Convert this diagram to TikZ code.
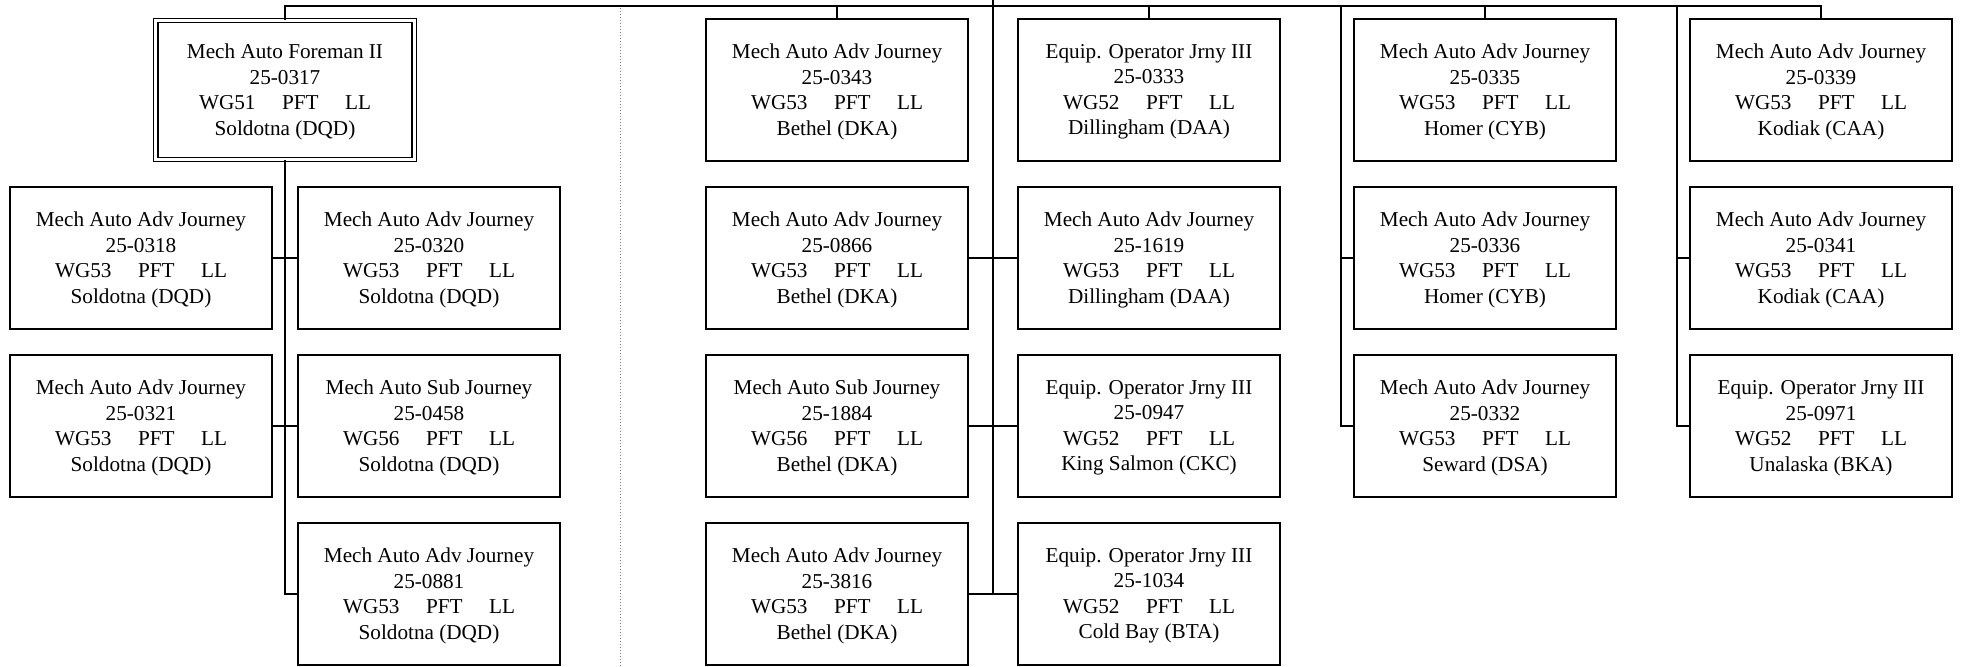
\documentclass[tikz,border=0pt]{standalone}
\usepackage{fontspec}
\setmainfont{Liberation Serif}
\usepackage{tikz}
\usetikzlibrary{calc}
\newcommand{\jobtext}[4]{\raisebox{0pt}[\dimexpr\height+2pt\relax]{#1}\\#2\\#3\hspace{1.25em}PFT\hspace{1.25em}LL\\#4}
\tikzset{job/.style={draw, line width=0.9pt, minimum width=131pt, minimum height=71pt, inner sep=0pt, align=center, font=\fontsize{10.6}{12.75}\selectfont}}
\tikzset{boss/.style={job, line width=0.6pt, double, double distance=1.6pt, minimum width=129.2pt, minimum height=69.5pt}}
\tikzset{wire/.style={line width=0.8pt}}

\begin{document}
\begin{tikzpicture}[x=0.5pt, y=-0.5pt]
  \useasboundingbox (0,0) rectangle (1965,667);
  \node [boss] (fm) at (285, 90) {\jobtext{Mech Auto Foreman II}{25-0317}{WG51}{Soldotna (DQD)}};
  \node [job] (a2) at (141,258) {\jobtext{Mech Auto Adv Journey}{25-0318}{WG53}{Soldotna (DQD)}};
  \node [job] (b2) at (429,258) {\jobtext{Mech Auto Adv Journey}{25-0320}{WG53}{Soldotna (DQD)}};
  \node [job] (a3) at (141,426) {\jobtext{Mech Auto Adv Journey}{25-0321}{WG53}{Soldotna (DQD)}};
  \node [job] (b3) at (429,426) {\jobtext{Mech Auto Sub Journey}{25-0458}{WG56}{Soldotna (DQD)}};
  \node [job] (b4) at (429,594) {\jobtext{Mech Auto Adv Journey}{25-0881}{WG53}{Soldotna (DQD)}};

  \node [job] (c1) at (837, 90) {\jobtext{Mech Auto Adv Journey}{25-0343}{WG53}{Bethel (DKA)}};
  \node [job] (c2) at (837,258) {\jobtext{Mech Auto Adv Journey}{25-0866}{WG53}{Bethel (DKA)}};
  \node [job] (c3) at (837,426) {\jobtext{Mech Auto Sub Journey}{25-1884}{WG56}{Bethel (DKA)}};
  \node [job] (c4) at (837,594) {\jobtext{Mech Auto Adv Journey}{25-3816}{WG53}{Bethel (DKA)}};
  \node [job] (d1) at (1149, 90) {\jobtext{Equip. Operator Jrny III}{25-0333}{WG52}{Dillingham (DAA)}};
  \node [job] (d2) at (1149,258) {\jobtext{Mech Auto Adv Journey}{25-1619}{WG53}{Dillingham (DAA)}};
  \node [job] (d3) at (1149,426) {\jobtext{Equip. Operator Jrny III}{25-0947}{WG52}{King Salmon (CKC)}};
  \node [job] (d4) at (1149,594) {\jobtext{Equip. Operator Jrny III}{25-1034}{WG52}{Cold Bay (BTA)}};

  \node [job] (e1) at (1485, 90) {\jobtext{Mech Auto Adv Journey}{25-0335}{WG53}{Homer (CYB)}};
  \node [job] (e2) at (1485,258) {\jobtext{Mech Auto Adv Journey}{25-0336}{WG53}{Homer (CYB)}};
  \node [job] (e3) at (1485,426) {\jobtext{Mech Auto Adv Journey}{25-0332}{WG53}{Seward (DSA)}};
  \node [job] (f1) at (1821, 90) {\jobtext{Mech Auto Adv Journey}{25-0339}{WG53}{Kodiak (CAA)}};
  \node [job] (f2) at (1821,258) {\jobtext{Mech Auto Adv Journey}{25-0341}{WG53}{Kodiak (CAA)}};
  \node [job] (f3) at (1821,426) {\jobtext{Equip. Operator Jrny III}{25-0971}{WG52}{Unalaska (BKA)}};

  \coordinate (root) at (993,0);
  \coordinate (bar) at (993,6);
  \coordinate (mid) at (993,594);
  \coordinate (espine) at (1341,6);
  \coordinate (fspine) at (1677,6);

  \draw [wire] (fm.north) |- (bar) -| (f1.north);
  \draw [wire] (root) -- (mid);
  \draw [wire] (c1.north) -- (c1.north |- bar);
  \draw [wire] (d1.north) -- (d1.north |- bar);
  \draw [wire] (e1.north) -- (e1.north |- bar);
  \draw [wire] (c2.east) -- (d2.west);
  \draw [wire] (c3.east) -- (d3.west);
  \draw [wire] (c4.east) -- (d4.west);

  \draw [wire] (fm.south) |- (b4.west);
  \draw [wire] (a2.east) -- (b2.west);
  \draw [wire] (a3.east) -- (b3.west);

  \draw [wire] (espine) |- (e3.west);
  \draw [wire] (espine |- e2.west) -- (e2.west);
  \draw [wire] (fspine) |- (f3.west);
  \draw [wire] (fspine |- f2.west) -- (f2.west);

  \draw [gray, densely dotted, line width=0.5pt] (620,8) -- (620,666);
\end{tikzpicture}
\end{document}
